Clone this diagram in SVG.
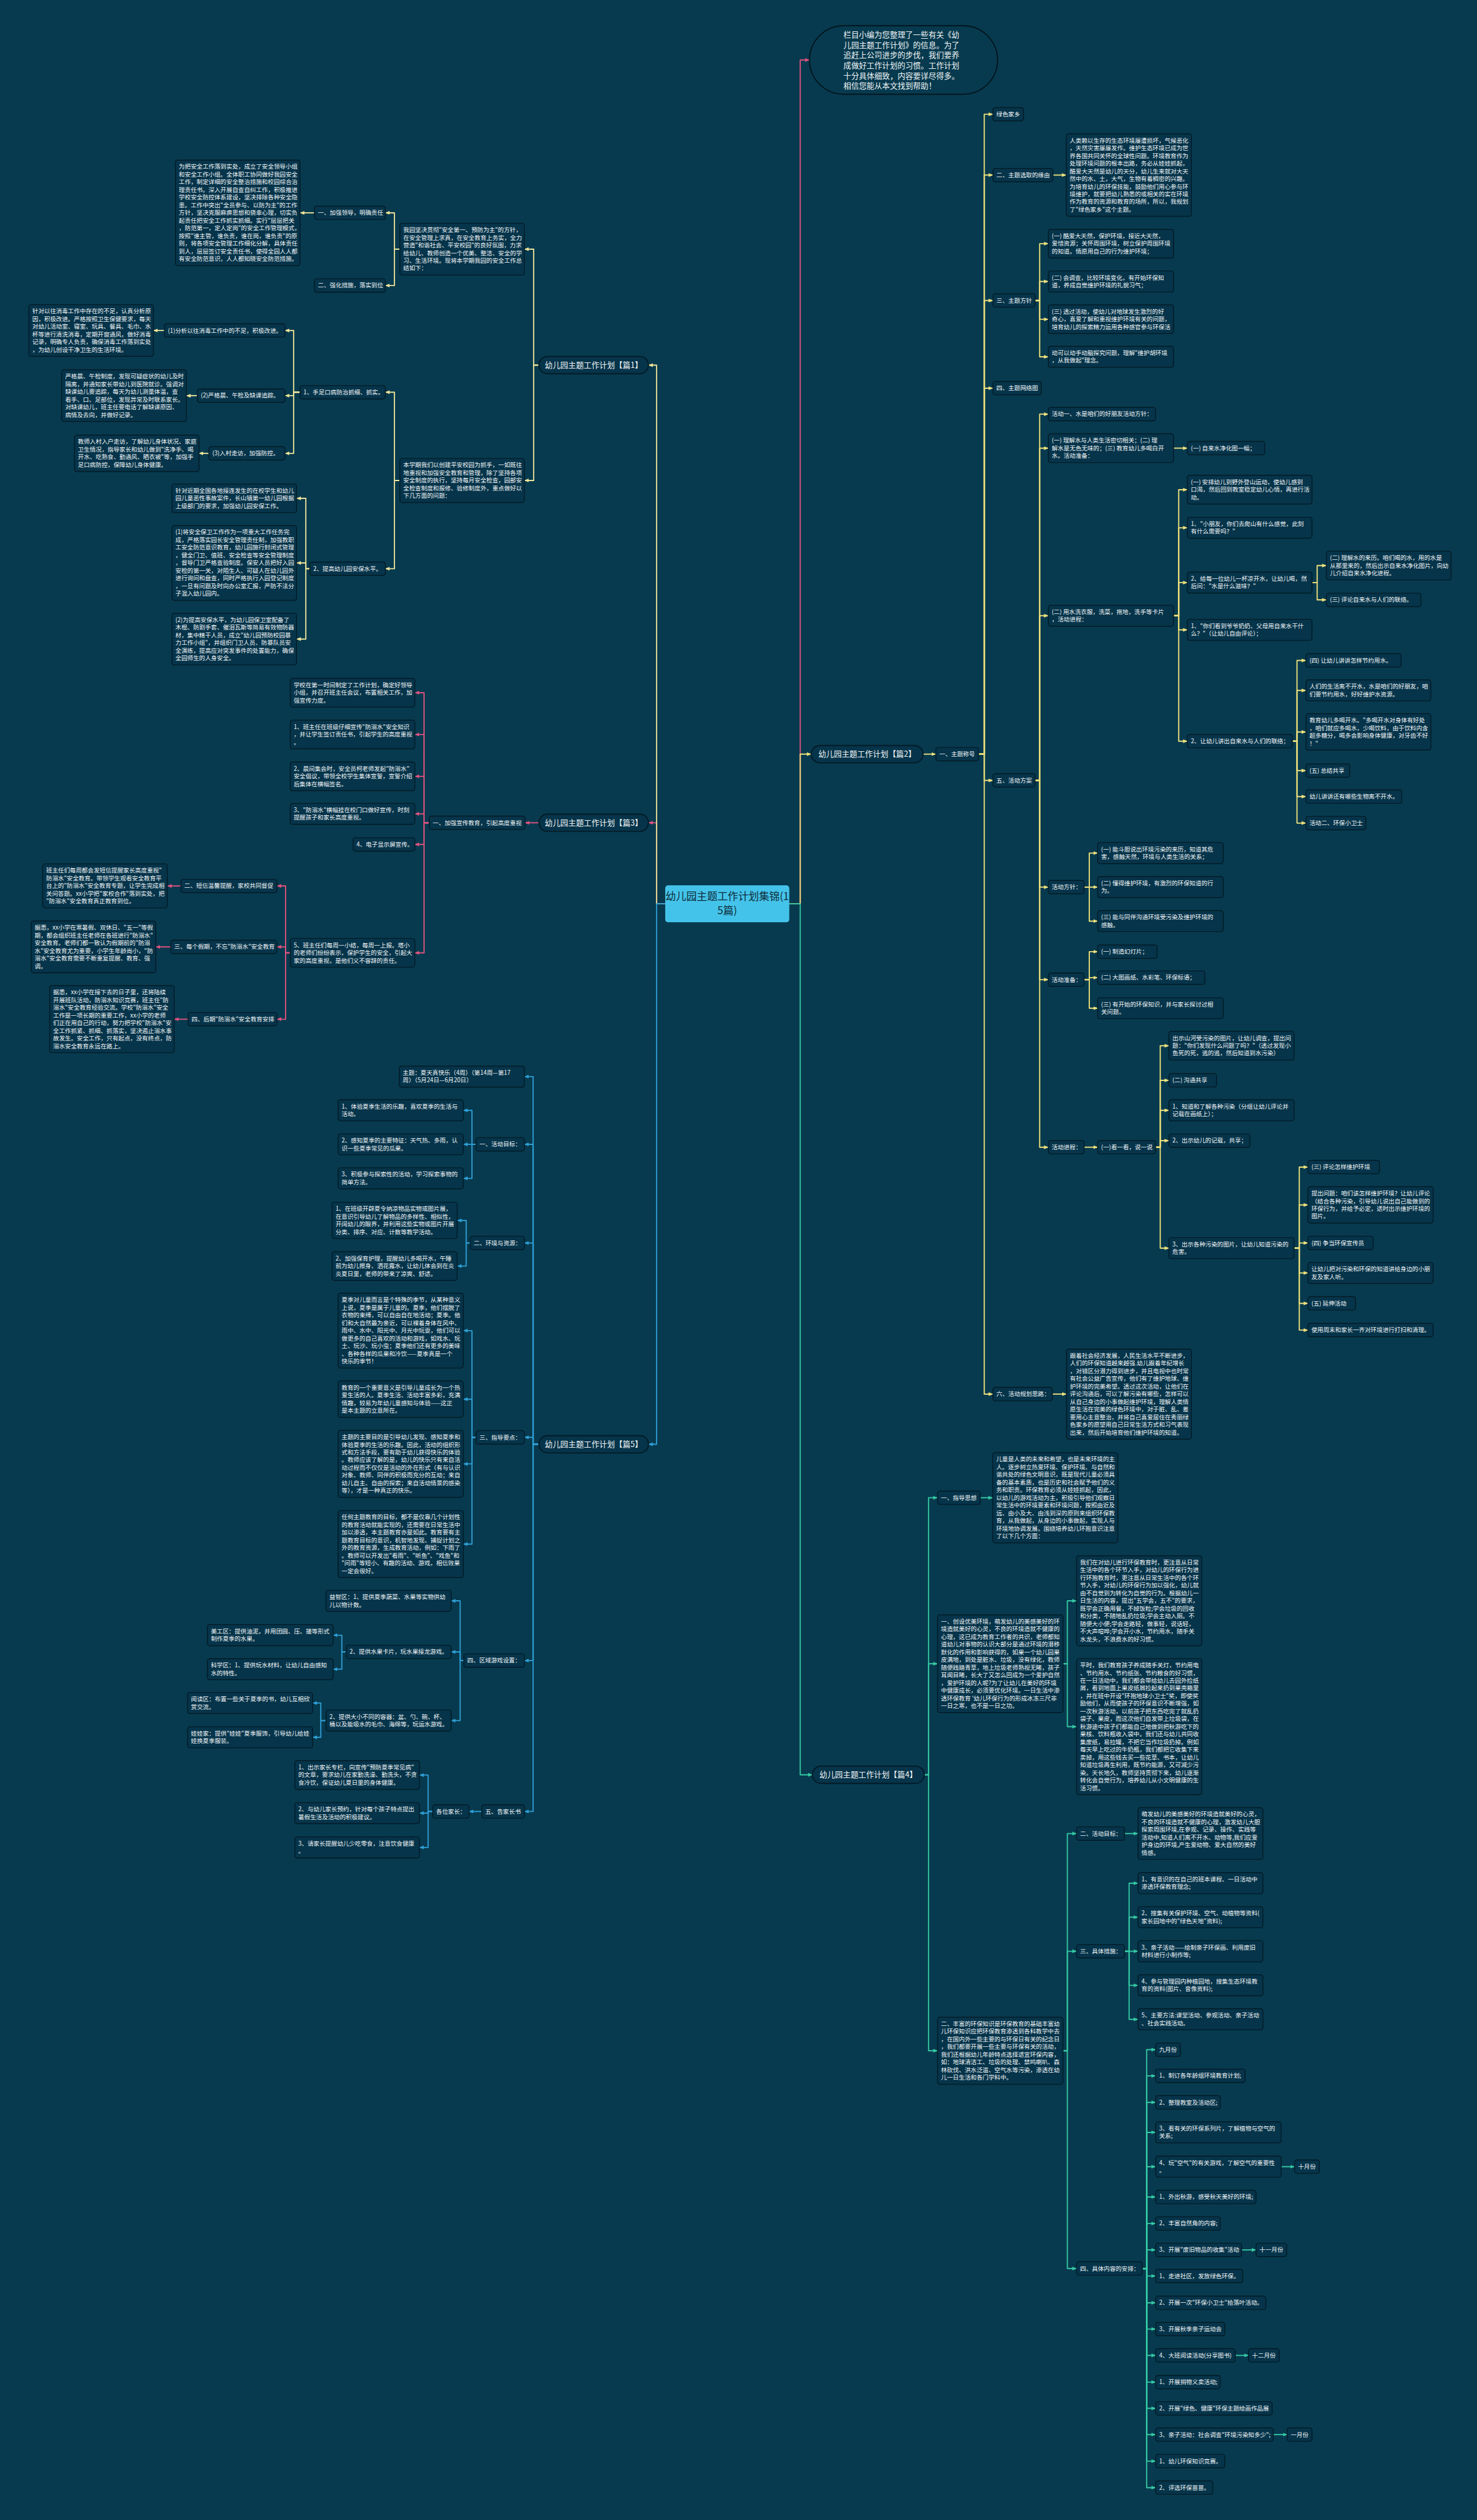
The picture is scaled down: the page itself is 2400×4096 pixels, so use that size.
<svg xmlns="http://www.w3.org/2000/svg" width="2400" height="4096" viewBox="0 0 2400 4096">
<style>
.b{fill:#06344a;stroke:#021b27;stroke-width:1.5}
.t{font-family:'Noto Sans CJK SC','Noto Sans',sans-serif;font-size:10.3px;fill:#f1f5f7}
.bn{fill:#06344a;stroke:#021b27;stroke-width:2}
.bt{font-family:'Noto Sans CJK SC','Noto Sans',sans-serif;font-size:13.5px;fill:#f1f5f7;text-anchor:middle}
.c{fill:none;stroke-width:2;stroke-linejoin:round}
.y1{stroke:#eee39a}.y2{stroke:#f0e27c}.p{stroke:#e0527f}.bl{stroke:#2f9fd6}.tl{stroke:#35c9a4}
</style>
<defs>
<marker id="aY1" viewBox="0 0 8 8" refX="7.5" refY="4" markerWidth="8" markerHeight="8" markerUnits="userSpaceOnUse" orient="auto"><path d="M0,0.8 L8,4 L0,7.2 z" fill="#eee39a"/></marker>
<marker id="aY2" viewBox="0 0 8 8" refX="7.5" refY="4" markerWidth="8" markerHeight="8" markerUnits="userSpaceOnUse" orient="auto"><path d="M0,0.8 L8,4 L0,7.2 z" fill="#f0e27c"/></marker>
<marker id="aP" viewBox="0 0 8 8" refX="7.5" refY="4" markerWidth="8" markerHeight="8" markerUnits="userSpaceOnUse" orient="auto"><path d="M0,0.8 L8,4 L0,7.2 z" fill="#e0527f"/></marker>
<marker id="aB" viewBox="0 0 8 8" refX="7.5" refY="4" markerWidth="8" markerHeight="8" markerUnits="userSpaceOnUse" orient="auto"><path d="M0,0.8 L8,4 L0,7.2 z" fill="#2f9fd6"/></marker>
<marker id="aT" viewBox="0 0 8 8" refX="7.5" refY="4" markerWidth="8" markerHeight="8" markerUnits="userSpaceOnUse" orient="auto"><path d="M0,0.8 L8,4 L0,7.2 z" fill="#35c9a4"/></marker>
</defs>
<rect x="0" y="0" width="2400" height="4096" fill="#073a4e"/>
<g transform="scale(0.9375)">

<g id="connectors">
<g class="c p" marker-end="url(#aP)">
<path d="M1368 1567 H1387 V104 H1403"/>
<path d="M1153 1567 H1138 V1426.5 H1124"/>
<path d="M934 1426.5 H910"/>
<path d="M744 1426.5 H735 V1201 H719"/><path d="M744 1426.5 H735 V1273.5 H719"/><path d="M744 1426.5 H735 V1346 H719"/><path d="M744 1426.5 H735 V1411 H719"/><path d="M744 1426.5 H735 V1464 H719"/><path d="M744 1426.5 H735 V1652 H719"/>
<path d="M503 1652 H495 V1536 H480"/><path d="M503 1652 H495 V1641.7 H480"/><path d="M503 1652 H495 V1767 H480"/>
<path d="M313.5 1536 H290"/><path d="M296 1641.7 H270"/><path d="M326 1767 H302"/>
</g>
<g class="c y1" marker-end="url(#aY1)">
<path d="M1153 1567 H1138 V633 H1124"/>
<path d="M934 633 H925 V432 H909"/><path d="M934 633 H925 V833 H909"/>
<path d="M693 432 H683.6 V369 H668"/><path d="M693 432 H683.6 V495 H668"/>
<path d="M545 369 H520"/>
<path d="M693 833 H683.6 V680 H668"/><path d="M693 833 H683.6 V986 H668"/>
<path d="M520 680 H509 V573 H494"/><path d="M520 680 H509 V686 H494"/><path d="M520 680 H509 V786 H494"/>
<path d="M285 573 H266"/><path d="M342 686 H323"/><path d="M362 786 H345"/>
<path d="M537 986 H530 V864 H514"/><path d="M537 986 H530 V976 H514"/><path d="M537 986 H530 V1108 H514"/>
</g>
<g class="c bl" marker-end="url(#aB)">
<path d="M1153 1567 H1138 V2504 H1124"/>
<path d="M934 2504 H924 V1866.5 H909"/><path d="M934 2504 H924 V1984 H909"/><path d="M934 2504 H924 V2155 H909"/><path d="M934 2504 H924 V2492 H909"/><path d="M934 2504 H924 V2879 H909"/><path d="M934 2504 H924 V3140.7 H909"/>
<path d="M825 1984 H818 V1925 H803"/><path d="M825 1984 H818 V1984 H803"/><path d="M825 1984 H818 V2043 H803"/>
<path d="M815 2155 H808 V2116 H792.5"/><path d="M815 2155 H808 V2195 H792.5"/>
<path d="M825 2492 H818 V2307 H803"/><path d="M825 2492 H818 V2425.8 H803"/><path d="M825 2492 H818 V2538 H803"/><path d="M825 2492 H818 V2677 H803"/>
<path d="M804 2879 H797.5 V2775.5 H782"/><path d="M804 2879 H797.5 V2864 H782"/><path d="M804 2879 H797.5 V2983 H782"/>
<path d="M600 2864 H592.5 V2835 H577.5"/><path d="M600 2864 H592.5 V2894 H577.5"/>
<path d="M565 2983 H556 V2952.6 H542"/><path d="M565 2983 H556 V3012 H542"/>
<path d="M835 3140.7 H813"/>
<path d="M750 3140.7 H742 V3077.5 H727"/><path d="M750 3140.7 H742 V3143.5 H727"/><path d="M750 3140.7 H742 V3203 H727"/>
</g>
<g class="c y2" marker-end="url(#aY2)">
<path d="M1368 1567 H1387 V1307.5 H1406"/>
<path d="M1600 1307.5 H1622"/>
<path d="M1696 1307.5 H1706 V198 H1721"/><path d="M1696 1307.5 H1706 V303.5 H1721"/><path d="M1696 1307.5 H1706 V521 H1721"/><path d="M1696 1307.5 H1706 V673 H1721"/><path d="M1696 1307.5 H1706 V1353 H1721"/><path d="M1696 1307.5 H1706 V2417 H1721"/>
<path d="M1825 303.5 H1848"/>
<path d="M1794 521 H1802 V422.5 H1817"/><path d="M1794 521 H1802 V488 H1817"/><path d="M1794 521 H1802 V553.5 H1817"/><path d="M1794 521 H1802 V618.6 H1817"/>
<path d="M1794 1353 H1802 V718 H1817"/><path d="M1794 1353 H1802 V777 H1817"/><path d="M1794 1353 H1802 V1067.5 H1817"/><path d="M1794 1353 H1802 V1538 H1817"/><path d="M1794 1353 H1802 V1698.5 H1817"/><path d="M1794 1353 H1802 V1989 H1817"/>
<path d="M2034 777 H2058"/>
<path d="M2034 1067.5 H2043 V849 H2058"/><path d="M2034 1067.5 H2043 V915 H2058"/><path d="M2034 1067.5 H2043 V1010 H2058"/><path d="M2034 1067.5 H2043 V1092 H2058"/><path d="M2034 1067.5 H2043 V1285 H2058"/>
<path d="M2274 1010 H2283 V980.5 H2299"/><path d="M2274 1010 H2283 V1040 H2299"/>
<path d="M2240 1285 H2248 V1145 H2263.5"/><path d="M2240 1285 H2248 V1197 H2263.5"/><path d="M2240 1285 H2248 V1269 H2263.5"/><path d="M2240 1285 H2248 V1336 H2263.5"/><path d="M2240 1285 H2248 V1381 H2263.5"/><path d="M2240 1285 H2248 V1427 H2263.5"/>
<path d="M1879 1538 H1888 V1479 H1902.5"/><path d="M1879 1538 H1888 V1538 H1902.5"/><path d="M1879 1538 H1888 V1597 H1902.5"/>
<path d="M1879 1698.5 H1888 V1650 H1902.5"/><path d="M1879 1698.5 H1888 V1695 H1902.5"/><path d="M1879 1698.5 H1888 V1748 H1902.5"/>
<path d="M1879 1989 H1902.5"/>
<path d="M2003 1989 H2011 V1813 H2026"/><path d="M2003 1989 H2011 V1873 H2026"/><path d="M2003 1989 H2011 V1925 H2026"/><path d="M2003 1989 H2011 V1977.6 H2026"/><path d="M2003 1989 H2011 V2164 H2026"/>
<path d="M2243 2164 H2252 V2023.4 H2267"/><path d="M2243 2164 H2252 V2089 H2267"/><path d="M2243 2164 H2252 V2155 H2267"/><path d="M2243 2164 H2252 V2207 H2267"/><path d="M2243 2164 H2252 V2259.7 H2267"/><path d="M2243 2164 H2252 V2306 H2267"/>
<path d="M1824 2417 H1848.5"/>
</g>
<g class="c tl" marker-end="url(#aT)">
<path d="M1368 1567 H1387 V3077 H1408"/>
<path d="M1602 3077 H1609.4 V2596.7 H1625"/><path d="M1602 3077 H1609.4 V2884.5 H1625"/><path d="M1602 3077 H1609.4 V3555.5 H1625"/>
<path d="M1699 2596.7 H1720.6"/>
<path d="M1842.5 2884.5 H1850 V2775.4 H1866"/><path d="M1842.5 2884.5 H1850 V2993.6 H1866"/>
<path d="M1842.5 3555.5 H1850 V3179 H1866"/><path d="M1842.5 3555.5 H1850 V3383 H1866"/><path d="M1842.5 3555.5 H1850 V3933 H1866"/>
<path d="M1949 3179 H1972.5"/>
<path d="M1949 3383 H1957 V3265 H1972.5"/><path d="M1949 3383 H1957 V3324 H1972.5"/><path d="M1949 3383 H1957 V3383 H1972.5"/><path d="M1949 3383 H1957 V3442 H1972.5"/><path d="M1949 3383 H1957 V3501 H1972.5"/>
<path d="M1980 3933 H1987.5 V3553.6 H2003"/><path d="M1980 3933 H1987.5 V3599 H2003"/><path d="M1980 3933 H1987.5 V3645 H2003"/><path d="M1980 3933 H1987.5 V3697 H2003"/><path d="M1980 3933 H1987.5 V3756.5 H2003"/><path d="M1980 3933 H1987.5 V3809 H2003"/><path d="M1980 3933 H1987.5 V3855 H2003"/><path d="M1980 3933 H1987.5 V3900.8 H2003"/><path d="M1980 3933 H1987.5 V3946 H2003"/><path d="M1980 3933 H1987.5 V3992.5 H2003"/><path d="M1980 3933 H1987.5 V4038 H2003"/><path d="M1980 3933 H1987.5 V4083.7 H2003"/><path d="M1980 3933 H1987.5 V4130 H2003"/><path d="M1980 3933 H1987.5 V4175.5 H2003"/><path d="M1980 3933 H1987.5 V4221 H2003"/><path d="M1980 3933 H1987.5 V4267 H2003"/><path d="M1980 3933 H1987.5 V4313 H2003"/>
<path d="M2220.6 3756.5 H2243.8"/><path d="M2152 3900.8 H2177"/><path d="M2141 4083.7 H2164"/><path d="M2207 4221 H2231"/>
</g>
</g>

<g id="root"><rect x="1153" y="1535" width="215" height="64" rx="5" fill="#44c3ea"/><text x="1260.5" y="1561" font-family="'Noto Sans CJK SC','Noto Sans',sans-serif" font-size="18" fill="#0d2c38" text-anchor="middle">幼儿园主题工作计划集锦(1<tspan x="1260.5" dy="24">5篇)</tspan></text></g>

<g id="intro"><rect x="1403" y="44.5" width="326" height="119" rx="59.5" fill="#073a4e" stroke="#02161f" stroke-width="2"/><text x="1462" y="65" font-family="'Noto Sans CJK SC','Noto Sans',sans-serif" font-size="13.4" fill="#f1f5f7">栏目小编为您整理了一些有关《幼<tspan x="1462" dy="17.8">儿园主题工作计划》的信息。为了</tspan><tspan x="1462" dy="17.8">追赶上公司进步的步伐，我们要养</tspan><tspan x="1462" dy="17.8">成做好工作计划的习惯。工作计划</tspan><tspan x="1462" dy="17.8">十分具体细致，内容要详尽得多。</tspan><tspan x="1462" dy="17.8">相信您能从本文找到帮助！</tspan></text></g>

<g id="b1"><rect class="bn" x="934" y="618" width="190" height="30" rx="15"/><text class="bt" x="1029" y="638">幼儿园主题工作计划【篇1】</text></g>
<g id="b3"><rect class="bn" x="934" y="1411.5" width="190" height="30" rx="15"/><text class="bt" x="1029" y="1431.5">幼儿园主题工作计划【篇3】</text></g>
<g id="b5"><rect class="bn" x="934" y="2489" width="190" height="30" rx="15"/><text class="bt" x="1029" y="2509">幼儿园主题工作计划【篇5】</text></g>
<g id="b2"><rect class="bn" x="1406" y="1292.5" width="194" height="30" rx="15"/><text class="bt" x="1503" y="1312.5">幼儿园主题工作计划【篇2】</text></g>
<g id="b4"><rect class="bn" x="1408" y="3062" width="194" height="30" rx="15"/><text class="bt" x="1505" y="3082">幼儿园主题工作计划【篇4】</text></g>

<!-- 篇1 -->
<g id="p1a"><rect class="b" x="693" y="387.1" width="216" height="89.8" rx="4"/><text class="t" x="699" y="402.3">我园坚决贯彻"安全第一、预防为主"的方针，<tspan x="699" dy="13.3">在安全管理上求真，在安全教育上务实，全力</tspan><tspan x="699" dy="13.3">营造"和谐社会、平安校园"的良好氛围，力求</tspan><tspan x="699" dy="13.3">给幼儿、教师创造一个优美、整洁、安全的学</tspan><tspan x="699" dy="13.3">习、生活环境。现将本学期我园的安全工作总</tspan><tspan x="699" dy="13.3">结如下：</tspan></text></g>
<g id="p1a1"><rect class="b" x="545" y="357.35" width="123" height="23.3" rx="4"/><text class="t" x="551" y="372.55">一、加强领导，明确责任</text></g>
<g id="p1a1t"><rect class="b" x="304" y="277.55" width="216" height="182.9" rx="4"/><text class="t" x="310" y="292.75">为把安全工作落到实处，成立了安全领导小组<tspan x="310" dy="13.3">和安全工作小组。全体职工协同做好我园安全</tspan><tspan x="310" dy="13.3">工作，制定详细的安全整治措施和校园综合治</tspan><tspan x="310" dy="13.3">理责任书。深入开展自查自纠工作，积极推进</tspan><tspan x="310" dy="13.3">学校安全防控体系建设，坚决排除各种安全隐</tspan><tspan x="310" dy="13.3">患。工作中突出"全员参与、以防为主"的工作</tspan><tspan x="310" dy="13.3">方针，坚决克服麻痹思想和侥幸心理，切实负</tspan><tspan x="310" dy="13.3">起责任把安全工作抓实抓细。实行"层层把关</tspan><tspan x="310" dy="13.3">，防范第一，定人定岗"的安全工作管理模式，</tspan><tspan x="310" dy="13.3">按照"谁主管，谁负责，谁在岗，谁负责"的原</tspan><tspan x="310" dy="13.3">则，将各项安全管理工作细化分解，具体责任</tspan><tspan x="310" dy="13.3">到人，层层签订安全责任书，使得全园人人都</tspan><tspan x="310" dy="13.3">有安全防范意识，人人都知晓安全防范措施。</tspan></text></g>
<g id="p1a2"><rect class="b" x="545" y="483.35" width="123" height="23.3" rx="4"/><text class="t" x="551" y="498.55">二、强化措施，落实到位</text></g>
<g id="p1b"><rect class="b" x="693" y="794.75" width="216" height="76.5" rx="4"/><text class="t" x="699" y="809.95">本学期我们以创建平安校园为抓手，一如既往<tspan x="699" dy="13.3">地重视和加强安全教育和管理，除了坚持各项</tspan><tspan x="699" dy="13.3">安全制度的执行，坚持每月安全检查，园部安</tspan><tspan x="699" dy="13.3">全检查制度和报修、验修制度外，重点做好以</tspan><tspan x="699" dy="13.3">下几方面的问题：</tspan></text></g>
<g id="p1b1"><rect class="b" x="520" y="668.35" width="148" height="23.3" rx="4"/><text class="t" x="526" y="683.55">1、手足口病防治抓细、抓实。</text></g>
<g id="p1b1a"><rect class="b" x="285" y="561.35" width="209" height="23.3" rx="4"/><text class="t" x="291" y="576.55">(1)分析以往消毒工作中的不足，积极改进。</text></g>
<g id="p1b1at"><rect class="b" x="50" y="528.1" width="216" height="89.8" rx="4"/><text class="t" x="56" y="543.3">针对以往消毒工作中存在的不足，认真分析原<tspan x="56" dy="13.3">因，积极改进。严格按照卫生保健要求，每天</tspan><tspan x="56" dy="13.3">对幼儿活动室、寝室、玩具、餐具、毛巾、水</tspan><tspan x="56" dy="13.3">杯等进行清洗消毒，定期开窗通风，做好消毒</tspan><tspan x="56" dy="13.3">记录，明确专人负责，确保消毒工作落到实处</tspan><tspan x="56" dy="13.3">，为幼儿创设干净卫生的生活环境。</tspan></text></g>
<g id="p1b1b"><rect class="b" x="342" y="674.35" width="152" height="23.3" rx="4"/><text class="t" x="348" y="689.55">(2)严格晨、午检及缺课追踪。</text></g>
<g id="p1b1bt"><rect class="b" x="107" y="641.1" width="216" height="89.8" rx="4"/><text class="t" x="113" y="656.3">严格晨、午检制度，发现可疑症状的幼儿及时<tspan x="113" dy="13.3">隔离，并通知家长带幼儿到医院就诊。强调对</tspan><tspan x="113" dy="13.3">缺课幼儿要追踪，每天为幼儿测量体温，查</tspan><tspan x="113" dy="13.3">看手、口、足部位，发现异常及时联系家长。</tspan><tspan x="113" dy="13.3">对缺课幼儿，班主任要电话了解缺课原因、</tspan><tspan x="113" dy="13.3">病情及去向，并做好记录。</tspan></text></g>
<g id="p1b1c"><rect class="b" x="362" y="774.35" width="132" height="23.3" rx="4"/><text class="t" x="368" y="789.55">(3)入村走访，加强防控。</text></g>
<g id="p1b1ct"><rect class="b" x="129" y="754.4" width="216" height="63.2" rx="4"/><text class="t" x="135" y="769.6">教师入村入户走访，了解幼儿身体状况、家庭<tspan x="135" dy="13.3">卫生情况，指导家长和幼儿做到"洗净手、喝</tspan><tspan x="135" dy="13.3">开水、吃熟食、勤通风、晒衣被"等，加强手</tspan><tspan x="135" dy="13.3">足口病防控，保障幼儿身体健康。</tspan></text></g>
<g id="p1b2"><rect class="b" x="537" y="974.35" width="131" height="23.3" rx="4"/><text class="t" x="543" y="989.55">2、提高幼儿园安保水平。</text></g>
<g id="p1b2a"><rect class="b" x="298" y="839.05" width="216" height="49.9" rx="4"/><text class="t" x="304" y="854.25">针对近期全国各地接连发生的在校学生和幼儿<tspan x="304" dy="13.3">园儿童恶性事故案件，长山镇第一幼儿园根据</tspan><tspan x="304" dy="13.3">上级部门的要求，加强幼儿园安保工作。</tspan></text></g>
<g id="p1b2b"><rect class="b" x="298" y="911.15" width="216" height="129.7" rx="4"/><text class="t" x="304" y="926.35">(1)将安全保卫工作作为一项重大工作任务完<tspan x="304" dy="13.3">成，严格落实园长安全管理责任制，加强教职</tspan><tspan x="304" dy="13.3">工安全防范意识教育，幼儿园施行封闭式管理</tspan><tspan x="304" dy="13.3">，健全门卫、值班、安全检查等安全管理制度</tspan><tspan x="304" dy="13.3">，督导门卫严格查验制度。保安人员把好入园</tspan><tspan x="304" dy="13.3">安检的第一关，对陌生人、可疑人在幼儿园外</tspan><tspan x="304" dy="13.3">进行询问和盘查，同时严格执行入园登记制度</tspan><tspan x="304" dy="13.3">，一旦有问题及时向办公室汇报，严防不法分</tspan><tspan x="304" dy="13.3">子混入幼儿园内。</tspan></text></g>
<g id="p1b2c"><rect class="b" x="298" y="1063.1" width="216" height="89.8" rx="4"/><text class="t" x="304" y="1078.3">(2)为提高安保水平，为幼儿园保卫室配备了<tspan x="304" dy="13.3">木棍、防割手套、催泪瓦斯等简易有效物防器</tspan><tspan x="304" dy="13.3">材，集中精干人员，成立"幼儿园预防校园暴</tspan><tspan x="304" dy="13.3">力工作小组"，并组织门卫人员、防暴队员安</tspan><tspan x="304" dy="13.3">全演练，提高应对突发事件的处置能力，确保</tspan><tspan x="304" dy="13.3">全园师生的人身安全。</tspan></text></g>

<!-- 篇3 -->
<g id="p3a"><rect class="b" x="744" y="1414.85" width="166" height="23.3" rx="4"/><text class="t" x="750" y="1430.05">一、加强宣传教育，引起高度重视</text></g>
<g id="p3a1"><rect class="b" x="503" y="1176.05" width="216" height="49.9" rx="4"/><text class="t" x="509" y="1191.25">学校在第一时间制定了工作计划，确定好领导<tspan x="509" dy="13.3">小组，并召开班主任会议，布置相关工作，加</tspan><tspan x="509" dy="13.3">强宣传力度。</tspan></text></g>
<g id="p3a2"><rect class="b" x="503" y="1248.55" width="216" height="49.9" rx="4"/><text class="t" x="509" y="1263.75">1、班主任在班级仔细宣传"防溺水"安全知识<tspan x="509" dy="13.3">，并让学生签订责任书，引起学生的高度重视</tspan><tspan x="509" dy="13.3">。</tspan></text></g>
<g id="p3a3"><rect class="b" x="503" y="1321.05" width="216" height="49.9" rx="4"/><text class="t" x="509" y="1336.25">2、晨间集会时，安全员柯老师发起"防溺水"<tspan x="509" dy="13.3">安全倡议，带领全校学生集体宣誓，宣誓介绍</tspan><tspan x="509" dy="13.3">后集体在横幅签名。</tspan></text></g>
<g id="p3a4"><rect class="b" x="503" y="1392.7" width="216" height="36.6" rx="4"/><text class="t" x="509" y="1407.9">3、"防溺水"横幅挂在校门口做好宣传，时刻<tspan x="509" dy="13.3">提醒孩子和家长高度重视。</tspan></text></g>
<g id="p3a5"><rect class="b" x="612" y="1452.35" width="107" height="23.3" rx="4"/><text class="t" x="618" y="1467.55">4、电子显示屏宣传。</text></g>
<g id="p3a6"><rect class="b" x="503" y="1627.05" width="216" height="49.9" rx="4"/><text class="t" x="509" y="1642.25">5、班主任们每周一小结，每周一上报。塔小<tspan x="509" dy="13.3">的老师们纷纷表示，保护学生的安全，引起大</tspan><tspan x="509" dy="13.3">家的高度重视，是他们义不容辞的责任。</tspan></text></g>
<g id="p3b1"><rect class="b" x="313.5" y="1524.35" width="166.5" height="23.3" rx="4"/><text class="t" x="319.5" y="1539.55">二、短信温馨提醒，家校共同督促</text></g>
<g id="p3b1t"><rect class="b" x="74" y="1497.75" width="216" height="76.5" rx="4"/><text class="t" x="80" y="1512.95">班主任们每周都会发短信提醒家长高度重视"<tspan x="80" dy="13.3">防溺水"安全教育。带领学生观看安全教育平</tspan><tspan x="80" dy="13.3">台上的"防溺水"安全教育专题，让学生完成相</tspan><tspan x="80" dy="13.3">关问答题。xx小学把"家校合作"落到实处，把</tspan><tspan x="80" dy="13.3">"防溺水"安全教育真正教育到位。</tspan></text></g>
<g id="p3b2"><rect class="b" x="296" y="1630.05" width="184" height="23.3" rx="4"/><text class="t" x="302" y="1645.25">三、每个假期，不忘"防溺水"安全教育</text></g>
<g id="p3b2t"><rect class="b" x="54" y="1596.8" width="216" height="89.8" rx="4"/><text class="t" x="60" y="1612">据悉，xx小学在寒暑假、双休日、"五一"等假<tspan x="60" dy="13.3">期，都会组织班主任老师在各班进行"防溺水"</tspan><tspan x="60" dy="13.3">安全教育。老师们都一致认为假期前的"防溺</tspan><tspan x="60" dy="13.3">水"安全教育尤为重要，小学生年龄尚小，"防</tspan><tspan x="60" dy="13.3">溺水"安全教育需要不断重复提醒、教育、强</tspan><tspan x="60" dy="13.3">调。</tspan></text></g>
<g id="p3b3"><rect class="b" x="326" y="1755.35" width="154" height="23.3" rx="4"/><text class="t" x="332" y="1770.55">四、后期"防溺水"安全教育安排</text></g>
<g id="p3b3t"><rect class="b" x="86" y="1708.8" width="216" height="116.4" rx="4"/><text class="t" x="92" y="1724">据悉，xx小学在接下去的日子里，还将陆续<tspan x="92" dy="13.3">开展班队活动，防溺水知识竞赛，班主任"防</tspan><tspan x="92" dy="13.3">溺水"安全教育经验交流。学校"防溺水"安全</tspan><tspan x="92" dy="13.3">工作是一项长期的重要工作，xx小学的老师</tspan><tspan x="92" dy="13.3">们正在用自己的行动，努力把学校"防溺水"安</tspan><tspan x="92" dy="13.3">全工作抓紧、抓细、抓落实，坚决遏止溺水事</tspan><tspan x="92" dy="13.3">故发生。安全工作，只有起点，没有终点，防</tspan><tspan x="92" dy="13.3">溺水安全教育永远在路上。</tspan></text></g>

<!-- 篇5 -->
<g id="p5a"><rect class="b" x="692" y="1848.2" width="217" height="36.6" rx="4"/><text class="t" x="698" y="1863.4">主题：夏天真快乐（4周）（第14周—第17<tspan x="698" dy="13.3">周）（5月24日—6月20日）</tspan></text></g>
<g id="p5b"><rect class="b" x="825" y="1972.35" width="84" height="23.3" rx="4"/><text class="t" x="831" y="1987.55">一、活动目标：</text></g>
<g id="p5b1"><rect class="b" x="586" y="1906.7" width="217" height="36.6" rx="4"/><text class="t" x="592" y="1921.9">1、体验夏季生活的乐趣，喜欢夏季的生活与<tspan x="592" dy="13.3">活动。</tspan></text></g>
<g id="p5b2"><rect class="b" x="586" y="1965.7" width="217" height="36.6" rx="4"/><text class="t" x="592" y="1980.9">2、感知夏季的主要特征：天气热、多雨，认<tspan x="592" dy="13.3">识一些夏季常见的瓜果。</tspan></text></g>
<g id="p5b3"><rect class="b" x="586" y="2024.7" width="217" height="36.6" rx="4"/><text class="t" x="592" y="2039.9">3、积极参与探索性的活动，学习探索事物的<tspan x="592" dy="13.3">简单方法。</tspan></text></g>
<g id="p5c"><rect class="b" x="815" y="2143.35" width="94" height="23.3" rx="4"/><text class="t" x="821" y="2158.55">二、环境与资源：</text></g>
<g id="p5c1"><rect class="b" x="575.5" y="2084.4" width="217" height="63.2" rx="4"/><text class="t" x="581.5" y="2099.6">1、在班级开辟夏令纳凉物品实物或图片展，<tspan x="581.5" dy="13.3">在意识引导幼儿了解物品的多样性、相似性，</tspan><tspan x="581.5" dy="13.3">开阔幼儿的眼界，并利用这些实物或图片开展</tspan><tspan x="581.5" dy="13.3">分类、排序、对应、计数等教学活动。</tspan></text></g>
<g id="p5c2"><rect class="b" x="575.5" y="2170.05" width="217" height="49.9" rx="4"/><text class="t" x="581.5" y="2185.25">2、加强保育护理，提醒幼儿多喝开水，午睡<tspan x="581.5" dy="13.3">前为幼儿擦身、洒花露水，让幼儿体会到在炎</tspan><tspan x="581.5" dy="13.3">炎夏日里，老师的带来了凉爽、舒适。</tspan></text></g>
<g id="p5d"><rect class="b" x="825" y="2480.35" width="84" height="23.3" rx="4"/><text class="t" x="831" y="2495.55">三、指导要点：</text></g>
<g id="p5d1"><rect class="b" x="586" y="2242.15" width="217" height="129.7" rx="4"/><text class="t" x="592" y="2257.35">夏季对儿童而言是个特殊的季节，从某种意义<tspan x="592" dy="13.3">上说，夏季是属于儿童的。夏季，他们摆脱了</tspan><tspan x="592" dy="13.3">衣物的束缚，可以自由自在地活动；夏季。他</tspan><tspan x="592" dy="13.3">们和大自然最为亲近，可以裸着身体在风中、</tspan><tspan x="592" dy="13.3">雨中、水中、阳光中、月光中玩耍，他们可以</tspan><tspan x="592" dy="13.3">做更多的自己喜欢的活动和游戏，如戏水、玩</tspan><tspan x="592" dy="13.3">土、玩沙、玩小虫；夏季他们还有更多的美味</tspan><tspan x="592" dy="13.3">、各种各样的瓜果和冷饮——夏季真是一个</tspan><tspan x="592" dy="13.3">快乐的季节！</tspan></text></g>
<g id="p5d2"><rect class="b" x="586" y="2394.2" width="217" height="63.2" rx="4"/><text class="t" x="592" y="2409.4">教育的一个重要意义是引导儿童成长为一个热<tspan x="592" dy="13.3">爱生活的人。夏季生活、活动丰富多彩，充满</tspan><tspan x="592" dy="13.3">情趣，较易为年幼儿童感知与体验——这正</tspan><tspan x="592" dy="13.3">是本主题的立意所在。</tspan></text></g>
<g id="p5d3"><rect class="b" x="586" y="2479.8" width="217" height="116.4" rx="4"/><text class="t" x="592" y="2495">主题的主要目的是引导幼儿发现、感知夏季和<tspan x="592" dy="13.3">体验夏季的生活的乐趣。因此，活动的组织形</tspan><tspan x="592" dy="13.3">式和方法手段，要有助于幼儿获得快乐的体验</tspan><tspan x="592" dy="13.3">。教师应该了解的是，幼儿的快乐只有来自活</tspan><tspan x="592" dy="13.3">动过程而不仅仅是活动的外在形式（有与认识</tspan><tspan x="592" dy="13.3">对象、教师、同伴的积极而充分的互动；来自</tspan><tspan x="592" dy="13.3">幼儿自主、自由的探索；来自活动情景的感染</tspan><tspan x="592" dy="13.3">等），才是一种真正的快乐。</tspan></text></g>
<g id="p5d4"><rect class="b" x="586" y="2618.8" width="217" height="116.4" rx="4"/><text class="t" x="592" y="2634">任何主题教育的目标，都不是仅靠几个计划性<tspan x="592" dy="13.3">的教育活动就能实现的，还需要在日常生活中</tspan><tspan x="592" dy="13.3">加以渗透，本主题教育亦是如此。教育要有主</tspan><tspan x="592" dy="13.3">题教育目标的意识，机智地发现、捕捉计划之</tspan><tspan x="592" dy="13.3">外的教育资源，生成教育活动，例如：下雨了</tspan><tspan x="592" dy="13.3">。教师可以开发出"看雨"、"听鱼"、"戏鱼"和</tspan><tspan x="592" dy="13.3">"问雨"等短小、有趣的活动、游戏，相信效果</tspan><tspan x="592" dy="13.3">一定会很好。</tspan></text></g>
<g id="p5e"><rect class="b" x="804" y="2867.35" width="105" height="23.3" rx="4"/><text class="t" x="810" y="2882.55">四、区域游戏设置：</text></g>
<g id="p5e1"><rect class="b" x="565" y="2757.2" width="217" height="36.6" rx="4"/><text class="t" x="571" y="2772.4">益智区：1、提供夏季蔬菜、水果等实物供幼<tspan x="571" dy="13.3">儿以物计数。</tspan></text></g>
<g id="p5e2"><rect class="b" x="600" y="2852.35" width="182" height="23.3" rx="4"/><text class="t" x="606" y="2867.55">2、提供水果卡片，玩水果接龙游戏。</text></g>
<g id="p5e2a"><rect class="b" x="359.5" y="2816.7" width="218" height="36.6" rx="4"/><text class="t" x="365.5" y="2831.9">美工区：提供油泥，并用团圆、压、搓等形式<tspan x="365.5" dy="13.3">制作夏季的水果。</tspan></text></g>
<g id="p5e2b"><rect class="b" x="359.5" y="2875.7" width="218" height="36.6" rx="4"/><text class="t" x="365.5" y="2890.9">科学区：1、提供玩水材料，让幼儿自由感知<tspan x="365.5" dy="13.3">水的特性。</tspan></text></g>
<g id="p5e3"><rect class="b" x="565" y="2964.7" width="217" height="36.6" rx="4"/><text class="t" x="571" y="2979.9">2、提供大小不同的容器：盆、勺、碗、杯、<tspan x="571" dy="13.3">桶以及能吸水的毛巾、海绵等，玩运水游戏。</tspan></text></g>
<g id="p5e3a"><rect class="b" x="325" y="2934.3" width="217" height="36.6" rx="4"/><text class="t" x="331" y="2949.5">阅读区：布置一些关于夏季的书，幼儿互相欣<tspan x="331" dy="13.3">赏交流。</tspan></text></g>
<g id="p5e3b"><rect class="b" x="325" y="2993.7" width="217" height="36.6" rx="4"/><text class="t" x="331" y="3008.9">娃娃家：提供"娃娃"夏季服饰，引导幼儿给娃<tspan x="331" dy="13.3">娃换夏季服装。</tspan></text></g>
<g id="p5f"><rect class="b" x="835" y="3129.05" width="74" height="23.3" rx="4"/><text class="t" x="841" y="3144.25">五、告家长书</text></g>
<g id="p5f1"><rect class="b" x="750" y="3129.05" width="63" height="23.3" rx="4"/><text class="t" x="756" y="3144.25">各位家长：</text></g>
<g id="p5f1a"><rect class="b" x="511" y="3052.55" width="216" height="49.9" rx="4"/><text class="t" x="517" y="3067.75">1、出示家长专栏，向宣传"预防夏季常见病"<tspan x="517" dy="13.3">的文章，要求幼儿在家勤洗澡、勤洗头，不贪</tspan><tspan x="517" dy="13.3">食冷饮，保证幼儿夏日里的身体健康。</tspan></text></g>
<g id="p5f1b"><rect class="b" x="511" y="3125.2" width="216" height="36.6" rx="4"/><text class="t" x="517" y="3140.4">2、与幼儿家长预约，针对每个孩子特点提出<tspan x="517" dy="13.3">暑假生活及活动的积极建议。</tspan></text></g>
<g id="p5f1c"><rect class="b" x="511" y="3184.7" width="216" height="36.6" rx="4"/><text class="t" x="517" y="3199.9">3、请家长提醒幼儿少吃零食，注意饮食健康<tspan x="517" dy="13.3">。</tspan></text></g>

<!-- 篇2 -->
<g id="p2"><rect class="b" x="1622" y="1295.85" width="74" height="23.3" rx="4"/><text class="t" x="1628" y="1311.05">一、主题称号</text></g>
<g id="p2a"><rect class="b" x="1721" y="186.35" width="53" height="23.3" rx="4"/><text class="t" x="1727" y="201.55">绿色家乡</text></g>
<g id="p2b"><rect class="b" x="1721" y="291.85" width="104" height="23.3" rx="4"/><text class="t" x="1727" y="307.05">二、主题选取的缘由</text></g>
<g id="p2bt"><rect class="b" x="1848" y="232" width="217" height="143" rx="4"/><text class="t" x="1854" y="247.2">人类赖以生存的生态环境屡遭损坏，气候恶化<tspan x="1854" dy="13.3">，天然灾害屡屡发作。维护生态环境已成为世</tspan><tspan x="1854" dy="13.3">界各国共同关怀的全球性问题。环境教育作为</tspan><tspan x="1854" dy="13.3">处理环境问题的根本出路，务必从娃娃抓起，</tspan><tspan x="1854" dy="13.3">酷爱大天然是幼儿的天分，幼儿生来就对大天</tspan><tspan x="1854" dy="13.3">然中的水、土，大气，生物有着稠密的兴趣。</tspan><tspan x="1854" dy="13.3">为培育幼儿的环保技能，鼓励他们用心参与环</tspan><tspan x="1854" dy="13.3">境维护，就要把幼儿熟悉的或相关的实在环境</tspan><tspan x="1854" dy="13.3">作为教育的资源和教育的场所，所以，我规划</tspan><tspan x="1854" dy="13.3">了"绿色家乡"这个主题。</tspan></text></g>
<g id="p2c"><rect class="b" x="1721" y="509.35" width="73" height="23.3" rx="4"/><text class="t" x="1727" y="524.55">三、主题方针</text></g>
<g id="p2c1"><rect class="b" x="1817" y="397.55" width="217" height="49.9" rx="4"/><text class="t" x="1823" y="412.75"> (一) 酷爱大天然，保护环境，接近大天然，<tspan x="1823" dy="13.3">爱惜资源；关怀周围环境，树立保护周围环境</tspan><tspan x="1823" dy="13.3">的知道。情愿用自己的行为维护环境；</tspan></text></g>
<g id="p2c2"><rect class="b" x="1817" y="469.7" width="217" height="36.6" rx="4"/><text class="t" x="1823" y="484.9"> (二) 会调查，比较环境变化，有开始环保知<tspan x="1823" dy="13.3">道，养成自觉维护环境的礼貌习气；</tspan></text></g>
<g id="p2c3"><rect class="b" x="1817" y="528.55" width="217" height="49.9" rx="4"/><text class="t" x="1823" y="543.75"> (三) 透过活动，使幼儿对地球发生激烈的好<tspan x="1823" dy="13.3">奇心，喜爱了解和重视维护环境有关的问题，</tspan><tspan x="1823" dy="13.3">培育幼儿的探索精力运用各种感官参与环保活</tspan></text></g>
<g id="p2c4"><rect class="b" x="1817" y="600.3" width="217" height="36.6" rx="4"/><text class="t" x="1823" y="615.5">动可以动手动脑探究问题，理解"维护胡环境<tspan x="1823" dy="13.3">，从我做起"理念。</tspan></text></g>
<g id="p2d"><rect class="b" x="1721" y="661.35" width="84" height="23.3" rx="4"/><text class="t" x="1727" y="676.55">四、主题网络图</text></g>
<g id="p2e"><rect class="b" x="1721" y="1341.35" width="73" height="23.3" rx="4"/><text class="t" x="1727" y="1356.55">五、活动方案</text></g>
<g id="p2e1"><rect class="b" x="1817" y="706.35" width="186" height="23.3" rx="4"/><text class="t" x="1823" y="721.55">活动一、水是咱们的好朋友活动方针：</text></g>
<g id="p2e2"><rect class="b" x="1817" y="752.05" width="217" height="49.9" rx="4"/><text class="t" x="1823" y="767.25"> (一) 理解水与人类生活密切相关；(二) 理<tspan x="1823" dy="13.3">解水是无色无味的；(三) 教育幼儿多喝白开</tspan><tspan x="1823" dy="13.3">水。活动准备：</tspan></text></g>
<g id="p2e2a"><rect class="b" x="2058" y="765.35" width="134" height="23.3" rx="4"/><text class="t" x="2064" y="780.55"> (一) 自来水净化图一幅；</text></g>
<g id="p2e3"><rect class="b" x="1817" y="1049.2" width="217" height="36.6" rx="4"/><text class="t" x="1823" y="1064.4"> (二) 用水洗衣服，洗菜，拖地，洗手等卡片<tspan x="1823" dy="13.3">，活动进程：</tspan></text></g>
<g id="p2e3a"><rect class="b" x="2058" y="824.05" width="216" height="49.9" rx="4"/><text class="t" x="2064" y="839.25"> (一) 安排幼儿到野外登山运动，使幼儿感到<tspan x="2064" dy="13.3">口渴，然后回到教室稳定幼儿心情，再进行活</tspan><tspan x="2064" dy="13.3">动。</tspan></text></g>
<g id="p2e3b"><rect class="b" x="2058" y="896.7" width="216" height="36.6" rx="4"/><text class="t" x="2064" y="911.9">1、"小朋友，你们去爬山有什么感觉，此刻<tspan x="2064" dy="13.3">有什么需要吗？"</tspan></text></g>
<g id="p2e3c"><rect class="b" x="2058" y="991.7" width="216" height="36.6" rx="4"/><text class="t" x="2064" y="1006.9">2、给每一位幼儿一杯凉开水，让幼儿喝，然<tspan x="2064" dy="13.3">后问："水是什么滋味？"</tspan></text></g>
<g id="p2e3c1"><rect class="b" x="2299" y="955.55" width="216" height="49.9" rx="4"/><text class="t" x="2305" y="970.75"> (二) 理解水的来历。咱们喝的水，用的水是<tspan x="2305" dy="13.3">从那里来的，然后出示自来水净化图片，向幼</tspan><tspan x="2305" dy="13.3">儿介绍自来水净化进程。</tspan></text></g>
<g id="p2e3c2"><rect class="b" x="2299" y="1028.35" width="164" height="23.3" rx="4"/><text class="t" x="2305" y="1043.55"> (三) 评论自来水与人们的联络。</text></g>
<g id="p2e3d"><rect class="b" x="2058" y="1073.7" width="216" height="36.6" rx="4"/><text class="t" x="2064" y="1088.9">1、"你们看到爷爷奶奶、父母用自来水干什<tspan x="2064" dy="13.3">么？"（让幼儿自由评论）；</tspan></text></g>
<g id="p2e3e"><rect class="b" x="2058" y="1273.35" width="182" height="23.3" rx="4"/><text class="t" x="2064" y="1288.55">2、让幼儿讲出自来水与人们的联络；</text></g>
<g id="p2e3e1"><rect class="b" x="2263.5" y="1133.35" width="165" height="23.3" rx="4"/><text class="t" x="2269.5" y="1148.55"> (四) 让幼儿讲讲怎样节约用水。</text></g>
<g id="p2e3e2"><rect class="b" x="2263.5" y="1178.7" width="216.5" height="36.6" rx="4"/><text class="t" x="2269.5" y="1193.9">人们的生活离不开水，水是咱们的好朋友，咱<tspan x="2269.5" dy="13.3">们要节约用水，好好维护水资源。</tspan></text></g>
<g id="p2e3e3"><rect class="b" x="2263.5" y="1237.4" width="216.5" height="63.2" rx="4"/><text class="t" x="2269.5" y="1252.6">教育幼儿多喝开水。"多喝开水对身体有好处<tspan x="2269.5" dy="13.3">，咱们就应多喝水，少喝饮料，由于饮料内含</tspan><tspan x="2269.5" dy="13.3">超多糖分，喝多会影响身体健康，对牙齿不好</tspan><tspan x="2269.5" dy="13.3">！"</tspan></text></g>
<g id="p2e3e4"><rect class="b" x="2263.5" y="1324.35" width="76" height="23.3" rx="4"/><text class="t" x="2269.5" y="1339.55">(五) 总结共享</text></g>
<g id="p2e3e5"><rect class="b" x="2263.5" y="1369.35" width="166" height="23.3" rx="4"/><text class="t" x="2269.5" y="1384.55">幼儿讲讲还有哪些生物离不开水。</text></g>
<g id="p2e3e6"><rect class="b" x="2263.5" y="1415.35" width="104" height="23.3" rx="4"/><text class="t" x="2269.5" y="1430.55">活动二、环保小卫士</text></g>
<g id="p2e4"><rect class="b" x="1817" y="1526.35" width="62" height="23.3" rx="4"/><text class="t" x="1823" y="1541.55">活动方针：</text></g>
<g id="p2e4a"><rect class="b" x="1902.5" y="1460.7" width="217.6" height="36.6" rx="4"/><text class="t" x="1908.5" y="1475.9"> (一) 能斗胆说出环境污染的来历，知道其危<tspan x="1908.5" dy="13.3">害，感触天然，环境与人类生活的关系；</tspan></text></g>
<g id="p2e4b"><rect class="b" x="1902.5" y="1519.7" width="217.6" height="36.6" rx="4"/><text class="t" x="1908.5" y="1534.9"> (二) 懂得维护环境，有激烈的环保知道的行<tspan x="1908.5" dy="13.3">为。</tspan></text></g>
<g id="p2e4c"><rect class="b" x="1902.5" y="1578.7" width="217.6" height="36.6" rx="4"/><text class="t" x="1908.5" y="1593.9"> (三) 能与同伴沟通环境受污染及维护环境的<tspan x="1908.5" dy="13.3">感触。</tspan></text></g>
<g id="p2e5"><rect class="b" x="1817" y="1686.85" width="62" height="23.3" rx="4"/><text class="t" x="1823" y="1702.05">活动准备：</text></g>
<g id="p2e5a"><rect class="b" x="1902.5" y="1638.35" width="103" height="23.3" rx="4"/><text class="t" x="1908.5" y="1653.55"> (一) 制造幻灯片；</text></g>
<g id="p2e5b"><rect class="b" x="1902.5" y="1683.35" width="186" height="23.3" rx="4"/><text class="t" x="1908.5" y="1698.55"> (二) 大图画纸、水彩笔、环保标语；</text></g>
<g id="p2e5c"><rect class="b" x="1902.5" y="1729.7" width="217.6" height="36.6" rx="4"/><text class="t" x="1908.5" y="1744.9"> (三) 有开始的环保知识，并与家长探讨过相<tspan x="1908.5" dy="13.3">关问题。</tspan></text></g>
<g id="p2e6"><rect class="b" x="1817" y="1977.35" width="62" height="23.3" rx="4"/><text class="t" x="1823" y="1992.55">活动进程：</text></g>
<g id="p2e6a"><rect class="b" x="1902.5" y="1977.35" width="100.5" height="23.3" rx="4"/><text class="t" x="1908.5" y="1992.55">(一)看一看，说一说</text></g>
<g id="p2e6a1"><rect class="b" x="2026" y="1788.05" width="217" height="49.9" rx="4"/><text class="t" x="2032" y="1803.25">出示山河受污染的图片，让幼儿调查，提出问<tspan x="2032" dy="13.3">题："你们发现什么问题了吗？"（透过发现小</tspan><tspan x="2032" dy="13.3">鱼死的死，逃的逃，然后知道到水污染）</tspan></text></g>
<g id="p2e6a2"><rect class="b" x="2026" y="1861.35" width="82.5" height="23.3" rx="4"/><text class="t" x="2032" y="1876.55"> (二) 沟通共享</text></g>
<g id="p2e6a3"><rect class="b" x="2026" y="1906.7" width="217" height="36.6" rx="4"/><text class="t" x="2032" y="1921.9">1、知道和了解各种污染（分组让幼儿评论并<tspan x="2032" dy="13.3">记载在画纸上）；</tspan></text></g>
<g id="p2e6a4"><rect class="b" x="2026" y="1965.95" width="140.5" height="23.3" rx="4"/><text class="t" x="2032" y="1981.15">2、出示幼儿的记载，共享；</text></g>
<g id="p2e6a5"><rect class="b" x="2026" y="2145.7" width="217" height="36.6" rx="4"/><text class="t" x="2032" y="2160.9">3、出示各种污染的图片，让幼儿知道污染的<tspan x="2032" dy="13.3">危害。</tspan></text></g>
<g id="p2e6a5a"><rect class="b" x="2267" y="2011.75" width="124" height="23.3" rx="4"/><text class="t" x="2273" y="2026.95"> (三) 评论怎样维护环境</text></g>
<g id="p2e6a5b"><rect class="b" x="2267" y="2057.4" width="217" height="63.2" rx="4"/><text class="t" x="2273" y="2072.6">提出问题：咱们该怎样维护环境？让幼儿评论<tspan x="2273" dy="13.3">（结合各种污染，引导幼儿说出自己能做到的</tspan><tspan x="2273" dy="13.3">环保行为，并给予必定，适时出示维护环境的</tspan><tspan x="2273" dy="13.3">图片。</tspan></text></g>
<g id="p2e6a5c"><rect class="b" x="2267" y="2143.35" width="113" height="23.3" rx="4"/><text class="t" x="2273" y="2158.55"> (四) 争当环保宣传员</text></g>
<g id="p2e6a5d"><rect class="b" x="2267" y="2188.7" width="217" height="36.6" rx="4"/><text class="t" x="2273" y="2203.9">让幼儿把对污染和环保的知道讲给身边的小朋<tspan x="2273" dy="13.3">友及家人听。</tspan></text></g>
<g id="p2e6a5e"><rect class="b" x="2267" y="2248.05" width="82.5" height="23.3" rx="4"/><text class="t" x="2273" y="2263.25"> (五) 延伸活动</text></g>
<g id="p2e6a5f"><rect class="b" x="2267" y="2294.35" width="217" height="23.3" rx="4"/><text class="t" x="2273" y="2309.55">使用周末和家长一齐对环境进行打扫和清理。</text></g>
<g id="p2f"><rect class="b" x="1721" y="2405.35" width="103" height="23.3" rx="4"/><text class="t" x="1727" y="2420.55">六、活动规划思路：</text></g>
<g id="p2ft"><rect class="b" x="1848.5" y="2338.85" width="216.5" height="156.3" rx="4"/><text class="t" x="1854.5" y="2354.05">跟着社会经济发展，人民生活水平不断进步，<tspan x="1854.5" dy="13.3">人们的环保知道越来越强.幼儿跟着年纪增长</tspan><tspan x="1854.5" dy="13.3">，对错区分潜力得到进步，并且电视中也时常</tspan><tspan x="1854.5" dy="13.3">有社会公益广告宣传，他们有了维护地球、维</tspan><tspan x="1854.5" dy="13.3">护环境的完美希望。透过这次活动，让他们在</tspan><tspan x="1854.5" dy="13.3">评论沟通后，可以了解污染有哪些，怎样可以</tspan><tspan x="1854.5" dy="13.3">从自己身边的小事做起维护环境，理解人类情</tspan><tspan x="1854.5" dy="13.3">愿生活在完美的绿色环境中，对于脏、乱、差</tspan><tspan x="1854.5" dy="13.3">要用心主意整治，并将自己喜爱居住在秀丽绿</tspan><tspan x="1854.5" dy="13.3">色家乡的愿望用自己日常生活方式和习气表现</tspan><tspan x="1854.5" dy="13.3">出来，然后开始培育他们维护环境的知道。</tspan></text></g>

<!-- 篇4 -->
<g id="p4a"><rect class="b" x="1625" y="2585.05" width="74" height="23.3" rx="4"/><text class="t" x="1631" y="2600.25">一、指导思想</text></g>
<g id="p4at"><rect class="b" x="1720.6" y="2518.55" width="217" height="156.3" rx="4"/><text class="t" x="1726.6" y="2533.75">儿童是人类的未来和希望，也是未来环境的主<tspan x="1726.6" dy="13.3">人。逐步树立热爱环境、保护环境、与自然和</tspan><tspan x="1726.6" dy="13.3">谐共处的绿色文明意识，既是现代儿童必须具</tspan><tspan x="1726.6" dy="13.3">备的基本素质，也是历史和社会赋予他们的义</tspan><tspan x="1726.6" dy="13.3">务和职责。环保教育必须从娃娃抓起，因此，</tspan><tspan x="1726.6" dy="13.3">以幼儿的游戏活动为主，积极引导他们观察日</tspan><tspan x="1726.6" dy="13.3">常生活中的环境要素和环境问题，按照由近及</tspan><tspan x="1726.6" dy="13.3">远、由小及大、由浅到深的原则来组织环保教</tspan><tspan x="1726.6" dy="13.3">育，从我做起，从身边的小事做起，实现人与</tspan><tspan x="1726.6" dy="13.3">环境地协调发展。围绕培养幼儿环抱意识注意</tspan><tspan x="1726.6" dy="13.3">了以下几个方面：</tspan></text></g>
<g id="p4b"><rect class="b" x="1625" y="2799.7" width="217.5" height="169.6" rx="4"/><text class="t" x="1631" y="2814.9">一、创设优美环境，萌发幼儿的美感美好的环<tspan x="1631" dy="13.3">境造就美好的心灵，不良的环境造就不健康的</tspan><tspan x="1631" dy="13.3">心理，这已成为教育工作者的共识，老师都知</tspan><tspan x="1631" dy="13.3">道幼儿对事物的认识大部分是通过环境的潜移</tspan><tspan x="1631" dy="13.3">默化的作用和影响获得的，如果一个幼儿园果</tspan><tspan x="1631" dy="13.3">皮满地，到处是脏水、垃圾，没有绿化，教师</tspan><tspan x="1631" dy="13.3">随便践踏青草，地上垃圾老师熟视无睹，孩子</tspan><tspan x="1631" dy="13.3">耳闻目睹，长大了又怎么回成为一个爱护自然</tspan><tspan x="1631" dy="13.3">，爱护环境的人呢?为了让幼儿在美好的环境</tspan><tspan x="1631" dy="13.3">中健康成长，必须要优化环境。一日生活中渗</tspan><tspan x="1631" dy="13.3">透环保教育 '幼儿环保行为的形成冰冻三尺非</tspan><tspan x="1631" dy="13.3">一日之寒，也不是一日之功。</tspan></text></g>
<g id="p4b1"><rect class="b" x="1866" y="2697.25" width="217" height="156.3" rx="4"/><text class="t" x="1872" y="2712.45">我们在对幼儿进行环保教育时，更注意从日常<tspan x="1872" dy="13.3">生活中的各个环节入手，对幼儿的环保行为进</tspan><tspan x="1872" dy="13.3">行环抱教育时，更注意从日常生活中的各个环</tspan><tspan x="1872" dy="13.3">节入手，对幼儿的环保行为加以强化，幼儿就</tspan><tspan x="1872" dy="13.3">由不自觉到为转化为自觉的行为。根据幼儿一</tspan><tspan x="1872" dy="13.3">日生活的内容，提出"五学会，五不"的要求，</tspan><tspan x="1872" dy="13.3">既学会正确用餐，不掉饭粒;学会垃圾的回收</tspan><tspan x="1872" dy="13.3">和分类，不随地乱扔垃圾;学会主动入厕。不</tspan><tspan x="1872" dy="13.3">随便大小便;学会走路轻，做事轻，说话轻，</tspan><tspan x="1872" dy="13.3">不大声喧哗;学会开小水，节约用水，随手关</tspan><tspan x="1872" dy="13.3">水龙头，不浪费水的好习惯。</tspan></text></g>
<g id="p4b2"><rect class="b" x="1866" y="2875.55" width="217" height="236.1" rx="4"/><text class="t" x="1872" y="2890.75">平时，我们教育孩子养成随手关灯，节约用电<tspan x="1872" dy="13.3">、节约用水、节约纸张、节约粮食的好习惯，</tspan><tspan x="1872" dy="13.3">在一日活动中，我们都会带给幼儿去园外捡纸</tspan><tspan x="1872" dy="13.3">屑，看到地面上果皮纸屑捡起来扔到果壳箱里</tspan><tspan x="1872" dy="13.3">，并在班中开设"环抱地球小卫士"奖，即使奖</tspan><tspan x="1872" dy="13.3">励他们，从而使孩子的环保意识不断增强，如</tspan><tspan x="1872" dy="13.3">一次秋游活动，以前孩子把东西吃完了就乱扔</tspan><tspan x="1872" dy="13.3">袋子、果皮，而这次他们自发带上垃圾袋，在</tspan><tspan x="1872" dy="13.3">秋游途中孩子们都能自己地做到把秋游吃下的</tspan><tspan x="1872" dy="13.3">果核、饮料瓶收入袋中。我们还与幼儿共同收</tspan><tspan x="1872" dy="13.3">集废纸，易拉罐，不把它当作垃圾扔掉。例如</tspan><tspan x="1872" dy="13.3">每天早上吃过的牛奶瓶，我们都把它收集下来</tspan><tspan x="1872" dy="13.3">卖掉，用这些钱去买一些花草、书本，让幼儿</tspan><tspan x="1872" dy="13.3">知道垃圾再生利用，既节约能源，又可减少污</tspan><tspan x="1872" dy="13.3">染。天长地久，教师坚持贯彻下来，幼儿逐渐</tspan><tspan x="1872" dy="13.3">转化会自觉行为，培养幼儿从小文明健康的生</tspan><tspan x="1872" dy="13.3">活习惯。</tspan></text></g>
<g id="p4c"><rect class="b" x="1625" y="3497.3" width="217.5" height="116.4" rx="4"/><text class="t" x="1631" y="3512.5">二、丰富的环保知识是环保教育的基础丰富幼<tspan x="1631" dy="13.3">儿环保知识应把环保教育渗透到各科教学中去</tspan><tspan x="1631" dy="13.3">，在国内外一些主要的与环保日有关的纪念日</tspan><tspan x="1631" dy="13.3">，我们都要开展一些主要与环保有关的活动，</tspan><tspan x="1631" dy="13.3">我们还根据幼儿年龄特点选择适宜环保内容，</tspan><tspan x="1631" dy="13.3">如：地球清洁工、垃圾的处理、禁鸣喇叭、森</tspan><tspan x="1631" dy="13.3">林砍伐、洪水泛滥、空气水等污染，渗透在幼</tspan><tspan x="1631" dy="13.3">儿一日生活和各门学科中。</tspan></text></g>
<g id="p4c1"><rect class="b" x="1866" y="3167.35" width="83" height="23.3" rx="4"/><text class="t" x="1872" y="3182.55">二、活动目标：</text></g>
<g id="p4c1t"><rect class="b" x="1972.5" y="3134.1" width="216.5" height="89.8" rx="4"/><text class="t" x="1978.5" y="3149.3">萌发幼儿的美感美好的环境造就美好的心灵，<tspan x="1978.5" dy="13.3">不良的环境造就不健康的心理，激发幼儿大胆</tspan><tspan x="1978.5" dy="13.3">探索周围环境,在参观、记录、操作、实践等</tspan><tspan x="1978.5" dy="13.3">活动中,知道人们离不开水、动物等,我们应爱</tspan><tspan x="1978.5" dy="13.3">护身边的环境,产生爱动物、爱大自然的美好</tspan><tspan x="1978.5" dy="13.3">情感。</tspan></text></g>
<g id="p4c2"><rect class="b" x="1866" y="3371.35" width="83" height="23.3" rx="4"/><text class="t" x="1872" y="3386.55">三、具体措施：</text></g>
<g id="p4c2a"><rect class="b" x="1972.5" y="3246.7" width="216.5" height="36.6" rx="4"/><text class="t" x="1978.5" y="3261.9">1、有意识的在自己的班本课程、一日活动中<tspan x="1978.5" dy="13.3">渗透环保教育理念;</tspan></text></g>
<g id="p4c2b"><rect class="b" x="1972.5" y="3305.7" width="216.5" height="36.6" rx="4"/><text class="t" x="1978.5" y="3320.9">2、搜集有关保护环境、空气、动植物等资料(<tspan x="1978.5" dy="13.3">家长园地中的"绿色天地"资料);</tspan></text></g>
<g id="p4c2c"><rect class="b" x="1972.5" y="3364.7" width="216.5" height="36.6" rx="4"/><text class="t" x="1978.5" y="3379.9">3、亲子活动——绘制亲子环保画、利用废旧<tspan x="1978.5" dy="13.3">材料进行小制作等;</tspan></text></g>
<g id="p4c2d"><rect class="b" x="1972.5" y="3423.7" width="216.5" height="36.6" rx="4"/><text class="t" x="1978.5" y="3438.9">4、参与管理园内种植园地，搜集生态环境教<tspan x="1978.5" dy="13.3">育的资料(图片、音像资料);</tspan></text></g>
<g id="p4c2e"><rect class="b" x="1972.5" y="3482.7" width="216.5" height="36.6" rx="4"/><text class="t" x="1978.5" y="3497.9">5、主要方法:课堂活动、参观活动、亲子活动<tspan x="1978.5" dy="13.3">、社会实践活动。</tspan></text></g>
<g id="p4c3"><rect class="b" x="1866" y="3921.35" width="114" height="23.3" rx="4"/><text class="t" x="1872" y="3936.55">四、具体内容的安排：</text></g>
<g id="m0"><rect class="b" x="2003" y="3541.95" width="43" height="23.3" rx="4"/><text class="t" x="2009" y="3557.15">九月份</text></g>
<g id="m1"><rect class="b" x="2003" y="3587.35" width="155" height="23.3" rx="4"/><text class="t" x="2009" y="3602.55">1、制订各年龄组环境教育计划;</text></g>
<g id="m2"><rect class="b" x="2003" y="3633.35" width="112" height="23.3" rx="4"/><text class="t" x="2009" y="3648.55">2、整理教室及活动区;</text></g>
<g id="m3"><rect class="b" x="2003" y="3678.7" width="217.6" height="36.6" rx="4"/><text class="t" x="2009" y="3693.9">3、看有关的环保系列片，了解植物与空气的<tspan x="2009" dy="13.3">关系;</tspan></text></g>
<g id="m4"><rect class="b" x="2003" y="3738.2" width="217.6" height="36.6" rx="4"/><text class="t" x="2009" y="3753.4">4、玩"空气"的有关游戏，了解空气的重要性<tspan x="2009" dy="13.3">。</tspan></text></g>
<g id="m4x"><rect class="b" x="2243.8" y="3744.85" width="43" height="23.3" rx="4"/><text class="t" x="2249.8" y="3760.05">十月份</text></g>
<g id="m5"><rect class="b" x="2003" y="3797.35" width="174" height="23.3" rx="4"/><text class="t" x="2009" y="3812.55">1、外出秋游，感受秋天美好的环境;</text></g>
<g id="m6"><rect class="b" x="2003" y="3843.35" width="112" height="23.3" rx="4"/><text class="t" x="2009" y="3858.55">2、丰富自然角的内容;</text></g>
<g id="m7"><rect class="b" x="2003" y="3889.15" width="149" height="23.3" rx="4"/><text class="t" x="2009" y="3904.35">3、开展"废旧物品的收集"活动</text></g>
<g id="m7x"><rect class="b" x="2177" y="3889.15" width="53" height="23.3" rx="4"/><text class="t" x="2183" y="3904.35">十一月份</text></g>
<g id="m8"><rect class="b" x="2003" y="3934.35" width="151" height="23.3" rx="4"/><text class="t" x="2009" y="3949.55">1、走进社区，发放绿色环保。</text></g>
<g id="m9"><rect class="b" x="2003" y="3980.85" width="191" height="23.3" rx="4"/><text class="t" x="2009" y="3996.05">2、开展一次"环保小卫士"拾落叶活动。</text></g>
<g id="m10"><rect class="b" x="2003" y="4026.35" width="120" height="23.3" rx="4"/><text class="t" x="2009" y="4041.55">3、开展秋季亲子运动会</text></g>
<g id="m11"><rect class="b" x="2003" y="4072.05" width="138" height="23.3" rx="4"/><text class="t" x="2009" y="4087.25">4、大班阅读活动(分享图书)</text></g>
<g id="m11x"><rect class="b" x="2164" y="4072.05" width="53" height="23.3" rx="4"/><text class="t" x="2170" y="4087.25">十二月份</text></g>
<g id="m12"><rect class="b" x="2003" y="4118.35" width="112" height="23.3" rx="4"/><text class="t" x="2009" y="4133.55">1、开展捐物义卖活动;</text></g>
<g id="m13"><rect class="b" x="2003" y="4163.85" width="202" height="23.3" rx="4"/><text class="t" x="2009" y="4179.05">2、开展"绿色、健康"环保主题绘画作品展</text></g>
<g id="m14"><rect class="b" x="2003" y="4209.35" width="204" height="23.3" rx="4"/><text class="t" x="2009" y="4224.55">3、亲子活动：社会调查"环境污染知多少";</text></g>
<g id="m14x"><rect class="b" x="2231" y="4209.35" width="43" height="23.3" rx="4"/><text class="t" x="2237" y="4224.55">一月份</text></g>
<g id="m15"><rect class="b" x="2003" y="4255.35" width="120" height="23.3" rx="4"/><text class="t" x="2009" y="4270.55">1、幼儿环保知识竞赛。</text></g>
<g id="m16"><rect class="b" x="2003" y="4301.35" width="99" height="23.3" rx="4"/><text class="t" x="2009" y="4316.55">2、评选环保苗苗。</text></g>
</g>
</svg>
